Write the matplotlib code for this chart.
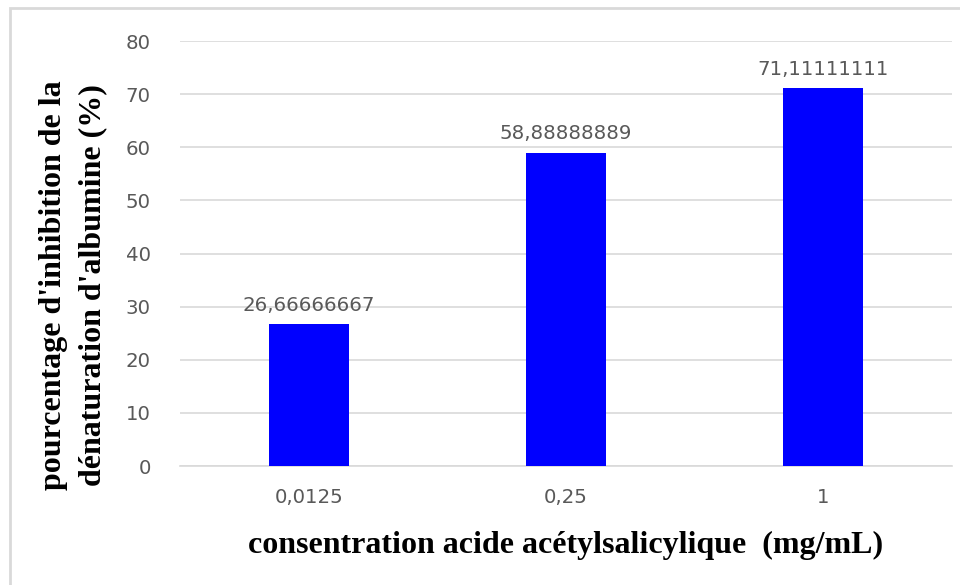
import matplotlib.pyplot as plt
from matplotlib.patches import Rectangle

# données
concentrations = ["0,0125", "0,25", "1"]
inhibition = [26.66666667, 58.88888889, 71.11111111]
y_ticks = [0, 10, 20, 30, 40, 50, 60, 70, 80]

gris = "#595959"
grille = "#D9D9D9"

fig = plt.figure(figsize=(9.6, 5.85), dpi=100)
ax = fig.add_axes([0.1875, 0.2034, 0.8042, 0.7265])

x = range(len(concentrations))
bars = ax.bar(x, inhibition, width=0.31, color="#0000FF", zorder=3)

# étiquettes des valeurs au-dessus des barres
labels = [f"{v:.8f}".replace(".", ",") for v in inhibition]
ax.bar_label(bars, labels=labels, padding=7, color=gris, fontsize=14.2,
             family="DejaVu Sans")

ax.set_xlim(-0.5, 2.5)
ax.set_ylim(0, 80)
ax.set_yticks(y_ticks)
ax.set_xticks(list(x))
ax.set_xticklabels(concentrations)
ax.yaxis.grid(True, color=grille, linewidth=1.2, zorder=0)
ax.tick_params(length=0, labelsize=14.2, labelcolor=gris)
ax.tick_params(axis="x", pad=16)
ax.tick_params(axis="y", pad=21)
for s in ["top", "right", "left"]:
    ax.spines[s].set_visible(False)
ax.spines["bottom"].set_color(grille)
ax.spines["bottom"].set_linewidth(1.2)

ax.set_xlabel("consentration acide acétylsalicylique  (mg/mL)",
              family="Liberation Serif", fontweight="bold", fontsize=23,
              labelpad=17)
ax.set_ylabel("pourcentage d'inhibition de la\ndénaturation d'albumine (%)",
              family="Liberation Serif", fontweight="bold", fontsize=23,
              linespacing=1.45)
ax.yaxis.set_label_coords(-0.1386, 0.426)
ax.yaxis.label.set_verticalalignment("center")

# cadre du graphique
fig.patches.append(Rectangle((10 / 960, -0.05), 1.0, 1 - 8 / 585 + 0.05,
                             transform=fig.transFigure, fill=False,
                             edgecolor=grille, linewidth=2))

fig.savefig("out.png", dpi=100)
